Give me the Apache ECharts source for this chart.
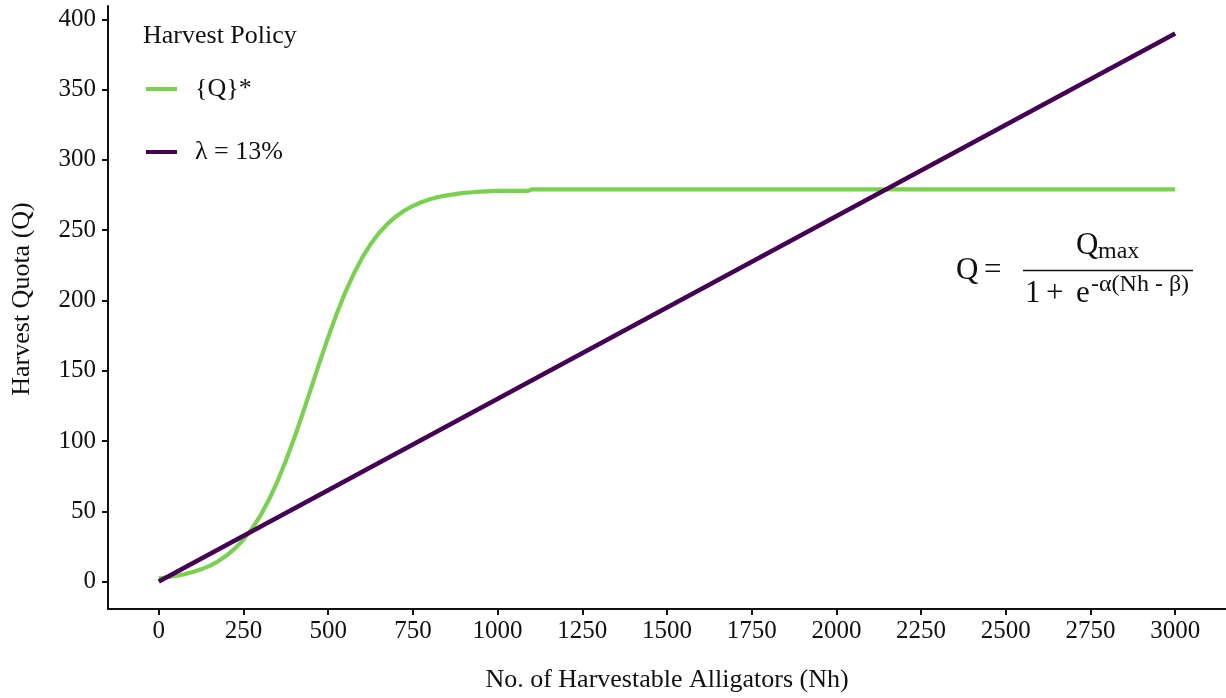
<!DOCTYPE html>
<html>
<head>
<meta charset="utf-8">
<title>Harvest Quota vs Harvestable Alligators</title>
<script src="https://cdn.jsdelivr.net/npm/echarts@6/dist/echarts.min.js"></script>
<style>
  html, body { margin: 0; padding: 0; background: #ffffff; }
  #chart { width: 1226px; height: 698px; }
</style>
</head>
<body>
<div id="chart"></div>
<script>
// Optimal quota policy {Q}*: logistic curve, read at these Nh values
const nhOptimal = [0, 25, 50, 75, 100, 125, 150, 175, 200, 225, 250, 275, 300, 325, 350, 375, 400,
  425, 450, 475, 500, 525, 550, 575, 600, 625, 650, 675, 700, 725, 750, 775, 800, 825, 850,
  875, 900, 925, 950, 1000, 1050, 1090, 1100, 1500, 2000, 2500, 3000];
const quotaOptimal = [2.4, 3.1, 4.0, 5.2, 6.8, 8.7, 11.2, 14.4, 18.5, 23.6, 29.9, 37.6, 47.0,
  58.2, 71.2, 86.0, 102.3, 119.8, 138.0, 156.3, 173.9, 190.5, 205.6, 218.8, 230.3, 240.0,
  248.0, 254.5, 259.8, 264.0, 267.3, 269.9, 272.0, 273.6, 274.8, 275.7, 276.5, 277.0, 277.5,
  278.0, 278.0, 278.0, 279.0, 279.0, 279.0, 279.0, 279.0];

// Fixed harvest rate policy (lambda = 13%)
const nhFixed = [0, 3000];
const quotaFixed = [0, 390];

// Tick labels
const xTicks = [0, 250, 500, 750, 1000, 1250, 1500, 1750, 2000, 2250, 2500, 2750, 3000];
const yTicks = [0, 50, 100, 150, 200, 250, 300, 350, 400];

const seriesNames = ['{Q}*', 'λ = 13%'];
const seriesColors = ['#7AD151', '#440154'];

const FONT = "'Liberation Serif', 'Times New Roman', serif";
const INK = '#111111';

const chart = echarts.init(document.getElementById('chart'), null, { renderer: 'canvas' });

function zip(xs, ys) { return xs.map((x, i) => [x, ys[i]]); }

const option = {
  backgroundColor: '#ffffff',
  animation: false,
  grid: { left: 108, right: -1, top: 6, bottom: 86, containLabel: false },
  xAxis: {
    type: 'value',
    min: -150,
    max: 3150,
    name: 'No. of Harvestable Alligators (Nh)',
    nameLocation: 'middle',
    nameGap: 58,
    nameTextStyle: { fontFamily: FONT, fontSize: 26, color: INK },
    axisLine: { show: true, onZero: false, lineStyle: { color: INK, width: 2 } },
    axisTick: { show: true, length: 6, lineStyle: { color: INK, width: 2 }, customValues: xTicks },
    axisLabel: {
      fontFamily: FONT, fontSize: 25, color: INK, margin: 10, customValues: xTicks,
      formatter: (v) => String(v)
    },
    splitLine: { show: false }
  },
  yAxis: {
    type: 'value',
    min: -19.5,
    max: 409.5,
    axisLine: { show: true, onZero: false, lineStyle: { color: INK, width: 2 } },
    axisTick: { show: true, length: 6, lineStyle: { color: INK, width: 2 }, customValues: yTicks },
    axisLabel: {
      fontFamily: FONT, fontSize: 25, color: INK, margin: 12, customValues: yTicks,
      formatter: (v) => String(v)
    },
    splitLine: { show: false }
  },
  legend: {
    orient: 'vertical',
    left: 141,
    top: 69,
    itemWidth: 31,
    itemHeight: 4,
    itemGap: 33,
    data: seriesNames.map((n, i) => ({ name: n, icon: 'rect', itemStyle: { color: seriesColors[i] } })),
    formatter: (n) => '\u2002' + n,
    textStyle: { fontFamily: FONT, fontSize: 26, color: INK, lineHeight: 30 }
  },
  series: [
    {
      name: seriesNames[0],
      type: 'line',
      data: zip(nhOptimal, quotaOptimal),
      showSymbol: false,
      symbol: 'none',
      lineStyle: { color: seriesColors[0], width: 4.2 },
      itemStyle: { color: seriesColors[0] }
    },
    {
      name: seriesNames[1],
      type: 'line',
      data: zip(nhFixed, quotaFixed),
      showSymbol: false,
      symbol: 'none',
      lineStyle: { color: seriesColors[1], width: 4.5 },
      itemStyle: { color: seriesColors[1] }
    }
  ],
  graphic: [
    // legend title
    { type: 'text', left: 143, top: 23, style: { text: 'Harvest Policy', font: '26px ' + FONT, fill: INK } },
    // y axis title
    {
      type: 'text', x: 22, y: 299, rotation: Math.PI / 2,
      style: { text: 'Harvest Quota (Q)', font: '26px ' + FONT, fill: INK, align: 'center', verticalAlign: 'middle' }
    },
    // logistic formula
    { type: 'text', x: 956, y: 271, style: { text: 'Q', font: '31px ' + FONT, fill: INK, verticalAlign: 'middle' } },
    { type: 'text', x: 984, y: 271, style: { text: '=', font: '31px ' + FONT, fill: INK, verticalAlign: 'middle' } },
    { type: 'line', shape: { x1: 1023, y1: 270.5, x2: 1193, y2: 270.5 }, style: { stroke: INK, lineWidth: 1.5 } },
    { type: 'text', x: 1076, y: 246, style: { text: 'Q', font: '31px ' + FONT, fill: INK, verticalAlign: 'middle' } },
    { type: 'text', x: 1098, y: 252, style: { text: 'max', font: '24px ' + FONT, fill: INK, verticalAlign: 'middle' } },
    { type: 'text', x: 1025, y: 294, style: { text: '1', font: '31px ' + FONT, fill: INK, verticalAlign: 'middle' } },
    { type: 'text', x: 1046, y: 294, style: { text: '+', font: '31px ' + FONT, fill: INK, verticalAlign: 'middle' } },
    { type: 'text', x: 1076, y: 294, style: { text: 'e', font: '31px ' + FONT, fill: INK, verticalAlign: 'middle' } },
    { type: 'text', x: 1091, y: 285, style: { text: '-α(Nh - β)', font: '24px ' + FONT, fill: INK, verticalAlign: 'middle' } }
  ]
};

chart.setOption(option);
</script>
</body>
</html>
